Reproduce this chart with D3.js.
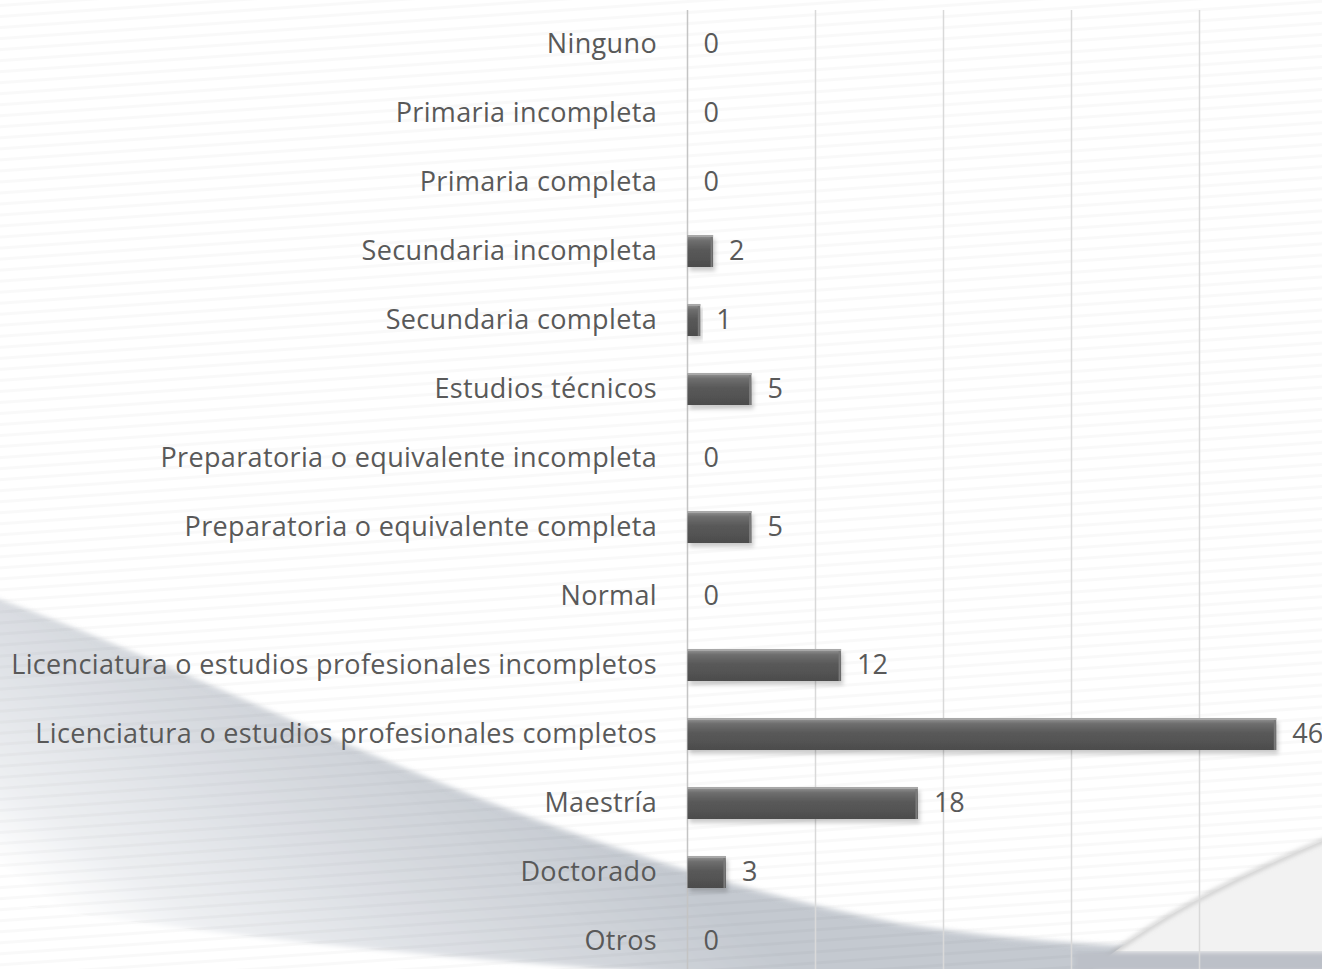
<!DOCTYPE html>
<html>
<head>
<meta charset="utf-8">
<script src="https://cdn.jsdelivr.net/npm/d3@7"></script>
<style>
  html, body { margin: 0; padding: 0; background: #ffffff; overflow: hidden; }
  text { font-family: "Open Sans", "Noto Sans", sans-serif; }
</style>
</head>
<body>
<div id="chart"></div>
<script>
// categories top to bottom
categories = [
    "Ninguno",
    "Primaria incompleta",
    "Primaria completa",
    "Secundaria incompleta",
    "Secundaria completa",
    "Estudios técnicos",
    "Preparatoria o equivalente incompleta",
    "Preparatoria o equivalente completa",
    "Normal",
    "Licenciatura o estudios profesionales incompletos",
    "Licenciatura o estudios profesionales completos",
    "Maestría",
    "Doctorado",
    "Otros"
];
values = [0, 0, 0, 2, 1, 5, 0, 5, 0, 12, 46, 18, 3, 0];
gridTicks = [0, 10, 20, 30, 40, 50];

window.addEventListener('load', function() {
    let width = 1322, height = 969;

    let svg = d3.select('#chart')
        .append('svg')
        .attr('width', width)
        .attr('height', height);

    let defs = svg.append('defs');

    // background swoosh gradient
    let swoosh = defs.append('linearGradient')
        .attr('id', 'swoosh')
        .attr('gradientUnits', 'userSpaceOnUse')
        .attr('x1', 420).attr('y1', 700)
        .attr('x2', 200).attr('y2', 1010);
    swoosh.append('stop').attr('offset', '0%').attr('stop-color', '#c4c9d0');
    swoosh.append('stop').attr('offset', '45%').attr('stop-color', '#dadde2');
    swoosh.append('stop').attr('offset', '80%').attr('stop-color', '#eceef1');
    swoosh.append('stop').attr('offset', '100%').attr('stop-color', '#ffffff');

    let blur = defs.append('filter').attr('id', 'soft')
        .attr('x', '-5%').attr('y', '-5%').attr('width', '110%').attr('height', '110%');
    blur.append('feGaussianBlur').attr('stdDeviation', 2.5);

    // faint stripes
    let stripes = defs.append('pattern')
        .attr('id', 'stripes')
        .attr('patternUnits', 'userSpaceOnUse')
        .attr('width', 80).attr('height', 11)
        .attr('patternTransform', 'rotate(-4)');
    stripes.append('rect').attr('width', 80).attr('height', 3).attr('y', 4).attr('fill', '#000').attr('opacity', 0.025);

    // bar gradient
    let barGrad = defs.append('linearGradient')
        .attr('id', 'barGrad')
        .attr('x1', 0).attr('y1', 0).attr('x2', 0).attr('y2', 1);
    barGrad.append('stop').attr('offset', '0%').attr('stop-color', '#9a9a9a');
    barGrad.append('stop').attr('offset', '18%').attr('stop-color', '#6e6e6e');
    barGrad.append('stop').attr('offset', '45%').attr('stop-color', '#5a5a5a');
    barGrad.append('stop').attr('offset', '100%').attr('stop-color', '#4c4c4c');

    let shadow = defs.append('filter').attr('id', 'shadow')
        .attr('x', '-10%').attr('y', '-20%').attr('width', '130%').attr('height', '160%');
    shadow.append('feDropShadow')
        .attr('dx', 2).attr('dy', 4).attr('stdDeviation', 2)
        .attr('flood-color', '#000').attr('flood-opacity', 0.2);

    // background
    svg.append('rect').attr('width', width).attr('height', height).attr('fill', '#ffffff');
    svg.append('rect').attr('width', width).attr('height', height).attr('fill', 'url(#stripes)');

    let swooshPath = 'M-10,598 C250,690 520,850 900,925 C1050,948 1200,952 1330,952 L1330,975 L700,975 C450,960 200,935 -10,900 Z';
    svg.append('path')
        .attr('d', swooshPath)
        .attr('fill', 'url(#swoosh)')
        .attr('filter', 'url(#soft)');
    svg.append('path')
        .attr('d', swooshPath)
        .attr('fill', 'url(#stripes)');
    // faint shade along the upper edge
    svg.append('path')
        .attr('d', 'M-10,598 C250,690 520,850 900,925 C1050,948 1200,952 1330,952')
        .attr('fill', 'none')
        .attr('stroke', '#b8bec6')
        .attr('stroke-width', 3)
        .attr('opacity', 0.5)
        .attr('filter', 'url(#soft)');

    // right light sweep
    svg.append('path')
        .attr('d', 'M1330,838 C1230,880 1150,920 1085,975 L1330,975 Z')
        .attr('fill', '#f2f2f2');
    svg.append('path')
        .attr('d', 'M1330,838 C1230,880 1150,920 1085,975')
        .attr('fill', 'none')
        .attr('stroke', '#a0a0a0')
        .attr('stroke-width', 2)
        .attr('filter', 'url(#soft)');
    svg.append('rect')
        .attr('x', 1075).attr('y', 952).attr('width', 260).attr('height', 20)
        .attr('fill', '#bcc0c8')
        .attr('filter', 'url(#soft)');

    // scales
    let x = d3.scaleLinear()
        .domain([0, 50])
        .range([687.5, 1327.5]);

    let y = d3.scaleBand()
        .domain(categories)
        .range([9.5, 975.5])
        .paddingInner(0.536)
        .paddingOuter(0.268);

    // gridlines
    svg.selectAll('.grid')
        .data(gridTicks)
        .enter().append('line')
        .attr('class', 'grid')
        .attr('x1', d => x(d))
        .attr('x2', d => x(d))
        .attr('y1', 10)
        .attr('y2', height)
        .attr('stroke', d => d === 0 ? '#c4c4c4' : '#d9d9d9')
        .attr('stroke-width', 1.5);

    let data = categories.map((c, i) => ({ cat: c, value: values[i] }));

    // bars
    svg.selectAll('.bar')
        .data(data.filter(d => d.value > 0))
        .enter().append('rect')
        .attr('class', 'bar')
        .attr('x', x(0))
        .attr('y', d => y(d.cat))
        .attr('width', d => x(d.value) - x(0))
        .attr('height', y.bandwidth())
        .attr('fill', 'url(#barGrad)')
        .attr('filter', 'url(#shadow)');

    // bevel highlight on top edge
    svg.selectAll('.bevel')
        .data(data.filter(d => d.value > 0))
        .enter().append('line')
        .attr('class', 'bevel')
        .attr('x1', x(0))
        .attr('x2', d => x(d.value))
        .attr('y1', d => y(d.cat) + 1)
        .attr('y2', d => y(d.cat) + 1)
        .attr('stroke', '#a8a8a8')
        .attr('stroke-width', 2);

    // bevel on right end
    svg.selectAll('.bevel-end')
        .data(data.filter(d => d.value > 0))
        .enter().append('line')
        .attr('class', 'bevel-end')
        .attr('x1', d => x(d.value) - 1.5)
        .attr('x2', d => x(d.value) - 1.5)
        .attr('y1', d => y(d.cat) + 2)
        .attr('y2', d => y(d.cat) + y.bandwidth())
        .attr('stroke', '#7a7a7a')
        .attr('stroke-width', 2);

    // category labels
    svg.selectAll('.cat')
        .data(data)
        .enter().append('text')
        .attr('class', 'cat')
        .attr('x', 657)
        .attr('y', d => y(d.cat) + y.bandwidth() / 2)
        .attr('dy', '0.35em')
        .attr('text-anchor', 'end')
        .style('font-size', '27px')
        .style('letter-spacing', '0.35px')
        .attr('fill', '#595959')
        .text(d => d.cat);

    // value labels
    svg.selectAll('.val')
        .data(data)
        .enter().append('text')
        .attr('class', 'val')
        .attr('x', d => x(d.value) + 16)
        .attr('y', d => y(d.cat) + y.bandwidth() / 2)
        .attr('dy', '0.35em')
        .style('font-size', '27px')
        .attr('fill', '#595959')
        .text(d => d.value);
});
</script>
</body>
</html>
